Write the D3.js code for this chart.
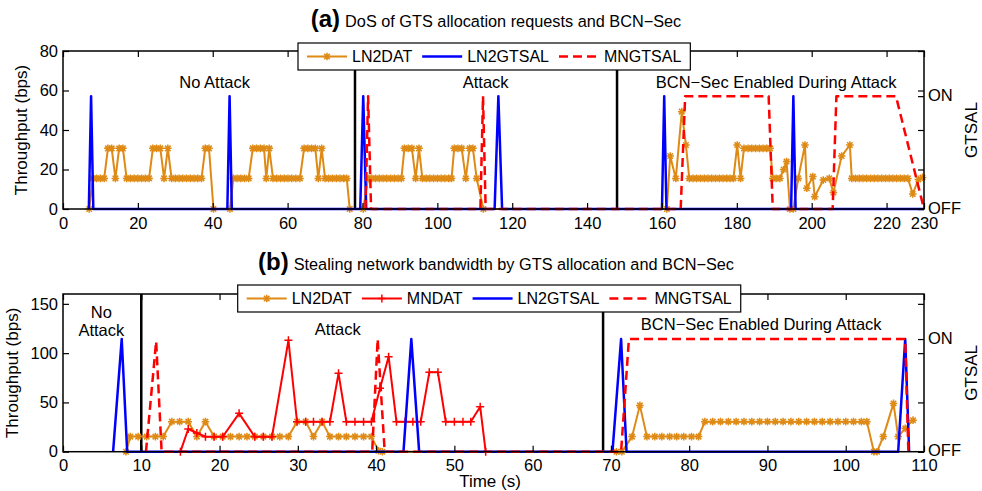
<!DOCTYPE html>
<html>
<head>
<meta charset="utf-8">
<script src="https://cdn.jsdelivr.net/npm/d3@7"></script>
<style>
  body { margin: 0; background: #fff; }
  text { font-family: "Liberation Sans", Arial, Helvetica, sans-serif; fill: #000; }
</style>
</head>
<body>
<svg id="chart" width="982" height="491"></svg>
<script>
// ---- data: [time (s), value] ----
// panel (a) : throughput on left axis (bps), GTSAL on right axis (0 = OFF, 1 = ON)
var ln2datA = [[7,0],[8,15.5],[9,15.5],[10,15.5],[11,15.5],[12,30.7],[13,30.7],[14,15.5],[15,30.7],[16,30.7],
  [17,15.5],[18,15.5],[19,15.5],[20,15.5],[21,15.5],[22,15.5],[23,15.5],[24,30.7],[25,30.7],[26,30.7],[27,15.5],
  [28,30.7],[29,15.5],[30,15.5],[31,15.5],[32,15.5],[33,15.5],[34,15.5],[35,15.5],[36,15.5],[37,15.5],[38,30.7],
  [39,30.7],[40.2,0],[44.6,0],[45.5,15.5],[46.5,15.5],[47.5,15.5],[48.5,15.5],[49.6,15.5],[50.7,30.7],[51.7,30.7],
  [52.7,30.7],[53.7,30.7],[54.3,15.5],[55.1,30.7],[56.1,15.5],[57.1,15.5],[58.1,15.5],[59.1,15.5],[60.1,15.5],
  [61.1,15.5],[62.2,15.5],[63.3,15.5],[64.4,30.7],[65.4,30.7],[66.4,30.7],[67.4,30.7],[68.2,15.5],[69.1,30.7],
  [70,15.5],[71,15.5],[72,15.5],[73,15.5],[74,15.5],[75,15.5],[75.8,15.5],[76.6,0],[80.2,0],[81.5,15.5],
  [82.5,15.5],[83.5,15.5],[84.5,15.5],[85.5,15.5],[86.5,15.5],[87.5,15.5],[88.5,15.5],[89.5,15.5],[90.4,15.5],
  [91.2,30.7],[92.2,30.7],[93.2,30.7],[94.2,15.5],[95.1,30.7],[96,15.5],[97,15.5],[98,15.5],[99,15.5],[100,15.5],
  [101,15.5],[102,15.5],[103,15.5],[103.8,15.5],[104.5,30.7],[105.5,30.7],[106.5,30.7],[107.6,15.5],[108.6,30.7],
  [109.5,30.7],[110.5,15.5],[112.3,0],[161.3,0],[162.2,26.8],[163.7,15.5],[165.3,49.3],[166.4,32.4],[167.3,15.5],
  [168.3,15.5],[169.3,15.5],[170.3,15.5],[171.3,15.5],[172.3,15.5],[173.3,15.5],[174.3,15.5],[175.3,15.5],
  [176.3,15.5],[177.3,15.5],[178.2,15.5],[179.1,15.5],[180.1,32.4],[181,15.5],[181.9,30.7],[183,30.7],[184,30.7],
  [185,30.7],[186,30.7],[187,30.7],[188,30.7],[188.9,30.7],[189.6,15.5],[190.5,15.5],[191.5,15.5],[192.5,20],
  [193.3,24],[194.2,0],[195.1,0],[196.4,15.5],[198.2,32.4],[198.7,10.5],[200.3,16.4],[200.8,6.2],[203.1,14.7],
  [204.7,15.5],[205.8,8.3],[208,26.8],[210.2,32.4],[210.7,15.5],[211.7,15.5],[212.7,15.5],[213.7,15.5],[214.7,15.5],
  [215.7,15.5],[216.7,15.5],[217.7,15.5],[218.7,15.5],[219.7,15.5],[220.7,15.5],[221.7,15.5],[222.7,15.5],
  [223.7,15.5],[224.7,15.5],[225.7,15.5],[227,7.6],[228.5,15],[229.6,16]];
var ln2gtsalA = [[6.9,0],[7.5,1],[8.1,0],[43.9,0],[44.5,1],[45.1,0],[79.4,0],[80.2,1],[81,0],[115.3,0],[116.3,1],
  [117.3,0],[160,0],[160.6,1],[161.2,0],[194.5,0],[195.1,1],[195.7,0],[230,0]];
var mngtsalA = [[80.8,0],[81.5,1],[82.3,0],[111.5,0],[112.2,1],[112.9,0],[165,0],[166.2,1],[188.5,1],[189.6,0],
  [205.6,0],[206.6,1],[222.5,1],[230,0]];

// panel (b)
var ln2datB = [[8.05,0],[8.6,15.3],[9.6,15.3],[10.7,15.3],[11.8,15.3],[12.8,15.3],[13.9,30.5],[14.9,30.5],[16,30.5],
  [17.1,15.3],[18.2,30.5],[19.3,15.3],[20.4,15.3],[21.4,15.3],[22.5,15.3],[23.5,15.3],[24.5,15.3],[25.6,15.3],
  [26.7,15.3],[27.7,15.3],[28.8,15.3],[29.9,30.5],[31,30.5],[32,15.3],[33.1,30.5],[34.1,15.3],[35.2,15.3],
  [36.2,15.3],[37.3,15.3],[38.4,15.3],[39.4,15.3],[40.3,1],[40.8,0],[70.7,0],[71.4,0],[72.7,15.3],[73.7,47],
  [74.6,15.3],[75.6,15.3],[76.5,15.3],[77.5,15.3],[78.4,15.3],[79.3,15.3],[80.3,15.3],[81.2,15.3],[82,30.5],
  [83,30.5],[84,30.5],[85,30.5],[86,30.5],[87,30.5],[88,30.5],[89,30.5],[90,30.5],[91,30.5],[92,30.5],[93,30.5],
  [94,30.5],[95,30.5],[96,30.5],[97,30.5],[98,30.5],[99,30.5],[100,30.5],[101,30.5],[102,30.5],[102.7,30.5],
  [103.6,0],[104,0],[104.8,15.3],[106.1,49],[106.7,15.3],[107.6,23.7],[108.6,32]];
var mndatB = [[15,0],[16,23],[17.1,19],[18.2,15.2],[19.3,15.2],[20.4,15.2],[22.5,38.9],[24.5,15.2],[25.6,15.2],
  [26.7,15.2],[28.8,113],[29.9,30.4],[31,30.4],[32,30.4],[33.1,30.4],[34.1,30.4],[35.2,79.5],[36.2,30.4],
  [37.3,30.4],[38.4,30.4],[39.4,30.4],[40.5,64.3],[41.6,96.4],[42.6,30.4],[43.7,30.4],[44.7,30.4],[45.7,30.4],
  [46.8,80.5],[47.9,80.5],[48.9,30.4],[50,30.4],[51.1,30.4],[52.1,30.4],[53.3,45.6],[54,0]];
var ln2gtsalB = [[6.4,0],[7.5,1],[8.2,0],[43.5,0],[44.5,1],[45.5,0],[70.2,0],[71.3,1],[72,0],[106.7,0],[107.6,1],
  [108.1,0]];
var mngtsalB = [[10.6,0],[11.9,0.98],[12.6,0],[39.5,0],[40.2,1],[41.1,0],[71.3,0],[72.3,1],[107.6,1],[108,0]];

// ---- axes / labels ----
var xTicksA = [0,20,40,60,80,100,120,140,160,180,200,220,230];
var yTicksA = [0,20,40,60,80];
var xTicksB = [0,10,20,30,40,50,60,70,80,90,100,110];
var yTicksB = [0,50,100,150];
var gtsalTicks = [0,1];
var gtsalLabels = ["OFF","ON"];
var phaseLinesA = [78,148];
var phaseLinesB = [10,69];
var notesA = [["No Attack"],["Attack"],["BCN\u2212Sec Enabled During Attack"]];
var notesB = [["No","Attack"],["Attack"],["BCN\u2212Sec Enabled During Attack"]];

var ORANGE = "#de8a14", RED = "#ff0000", BLUE = "#0000ff";

var svg = d3.select("#chart");
var pxL = 63, pxR = 924;

function markerPath(kind) {
    if (kind == "star") {
        var r = 3.8, a = r * 0.72;
        return "M" + (-r) + ",0H" + r + "M0," + (-r) + "V" + r +
               "M" + (-a) + "," + (-a) + "L" + a + "," + a + "M" + (-a) + "," + a + "L" + a + "," + (-a);
    }
    var p = 4;
    return "M" + (-p) + ",0H" + p + "M0," + (-p) + "V" + p;
}

function drawPanel(p) {
    var scX = d3.scaleLinear().domain([0, p.xMax]).range([pxL, pxR]);
    var scY = d3.scaleLinear().domain([0, p.yMax]).range([p.bottom, p.top]);
    var scY2 = d3.scaleLinear().domain([0, 1.4]).range([p.bottom, p.top]);
    var g = svg.append("g");

    // phase separators
    g.selectAll(".phase").data(p.phases).enter().append("line")
        .attr("x1", d => scX(d)).attr("x2", d => scX(d))
        .attr("y1", p.top).attr("y2", p.bottom)
        .attr("stroke", "#000").attr("stroke-width", 2.5);

    p.series.forEach(function(s) {
        var ys = s.right ? scY2 : scY;
        var lineMaker = d3.line().x(d => scX(d[0])).y(d => ys(d[1]));
        g.append("path")
            .attr("fill", "none").attr("stroke", s.color)
            .attr("stroke-width", s.width)
            .attr("stroke-dasharray", s.dash ? "9,5" : null)
            .attr("stroke-linejoin", "round")
            .attr("d", lineMaker(s.data));
        if (s.marker) {
            g.selectAll(null).data(s.data).enter().append("path")
                .attr("d", markerPath(s.marker))
                .attr("transform", d => "translate(" + scX(d[0]) + "," + ys(d[1]) + ")")
                .attr("stroke", s.color).attr("stroke-width", 1.5).attr("fill", "none");
        }
    });

    // box
    g.append("rect")
        .attr("x", pxL).attr("y", p.top)
        .attr("width", pxR - pxL).attr("height", p.bottom - p.top)
        .attr("fill", "none").attr("stroke", "#000").attr("stroke-width", 1.5);

    function styleAxis(ax) {
        ax.attr("font-size", null).attr("font-family", null);
        ax.select(".domain").remove();
        ax.selectAll(".tick line").attr("stroke-width", 1.2);
        ax.selectAll("text").style("font-size", "16.5px");
    }
    var xAxis = g.append("g").attr("transform", "translate(0," + p.bottom + ")")
        .call(d3.axisBottom(scX).tickValues(p.xTicks).tickSizeInner(-6).tickSizeOuter(0).tickPadding(8));
    styleAxis(xAxis);
    var xTop = g.append("g").attr("transform", "translate(0," + p.top + ")")
        .call(d3.axisTop(scX).tickValues(p.xTicks).tickSizeInner(-6).tickSizeOuter(0).tickFormat(""));
    styleAxis(xTop);
    var yAxis = g.append("g").attr("transform", "translate(" + pxL + ",0)")
        .call(d3.axisLeft(scY).tickValues(p.yTicks).tickSizeInner(-6).tickSizeOuter(0).tickPadding(5));
    styleAxis(yAxis);
    var yMirror = g.append("g").attr("transform", "translate(" + pxR + ",0)")
        .call(d3.axisRight(scY).tickValues(p.yTicks).tickSizeInner(-6).tickSizeOuter(0).tickFormat(""));
    styleAxis(yMirror);
    var y2Axis = g.append("g").attr("transform", "translate(" + pxR + ",0)")
        .call(d3.axisRight(scY2).tickValues(gtsalTicks).tickSizeInner(-6).tickSizeOuter(0).tickPadding(4)
              .tickFormat((d, i) => gtsalLabels[i]));
    styleAxis(y2Axis);
    y2Axis.selectAll("text").attr("dy", "0.26em");

    // axis titles
    g.append("text").attr("transform", "translate(" + p.ylabelX + "," + (p.top + p.bottom) / 2 + ") rotate(-90)")
        .attr("text-anchor", "middle").style("font-size", "17px").text("Throughput (bps)");
    g.append("text").attr("transform", "translate(977," + (p.top + p.bottom) / 2 + ") rotate(-90)")
        .attr("text-anchor", "middle").style("font-size", "17px").text("GTSAL");

    // phase annotations
    p.notes.forEach(function(lines, i) {
        var pos = p.notePos[i];
        var t = g.append("text").attr("text-anchor", "middle").style("font-size", "16.5px");
        lines.forEach(function(l, j) {
            t.append("tspan").attr("x", scX(pos[0])).attr("y", scY(pos[1]) + j * 18).text(l);
        });
    });

    // title
    var title = g.append("text").attr("x", 496).attr("y", p.titleY).attr("text-anchor", "middle");
    title.append("tspan").style("font-weight", "bold").style("font-size", "24px").text(p.tag);
    title.append("tspan").style("font-size", "16.3px").attr("dx", 5).text(p.title);

    // legend
    var lg = g.append("g");
    var box = lg.append("rect").attr("x", p.legend[0]).attr("y", p.legend[1])
        .attr("height", 27).attr("fill", "#fff").attr("stroke", "#000").attr("stroke-width", 1.2);
    var cx = p.legend[0] + 9, cy = p.legend[1] + 13.5;
    p.series.forEach(function(s) {
        lg.append("line").attr("x1", cx).attr("x2", cx + 40).attr("y1", cy).attr("y2", cy)
            .attr("stroke", s.color).attr("stroke-width", s.width)
            .attr("stroke-dasharray", s.dash ? "9,5" : null);
        if (s.marker) {
            lg.append("path").attr("d", markerPath(s.marker))
                .attr("transform", "translate(" + (cx + 20) + "," + cy + ")")
                .attr("stroke", s.color).attr("stroke-width", 1.5).attr("fill", "none");
        }
        var tx = lg.append("text").attr("x", cx + 45).attr("y", cy).attr("dy", "0.35em")
            .style("font-size", "16px").text(s.name);
        cx = cx + 45 + tx.node().getComputedTextLength() + 10;
    });
    box.attr("width", cx - 10 + 9 - p.legend[0]);
}

drawPanel({
    top: 51, bottom: 209, xMax: 230, yMax: 80,
    xTicks: xTicksA, yTicks: yTicksA, phases: phaseLinesA,
    series: [
        {name: "LN2DAT", data: ln2datA, color: ORANGE, width: 2, marker: "star"},
        {name: "LN2GTSAL", data: ln2gtsalA, color: BLUE, width: 2.5, right: true},
        {name: "MNGTSAL", data: mngtsalA, color: RED, width: 2.5, dash: true, right: true}
    ],
    notes: notesA, notePos: [[40.5, 61.3], [112.9, 61.3], [190.5, 61.3]],
    tag: "(a)", title: "DoS of GTS allocation requests and BCN\u2212Sec", titleY: 27,
    ylabelX: 27, legend: [298, 43]
});

drawPanel({
    top: 294, bottom: 451.7, xMax: 110, yMax: 160,
    xTicks: xTicksB, yTicks: yTicksB, phases: phaseLinesB,
    series: [
        {name: "LN2DAT", data: ln2datB, color: ORANGE, width: 2, marker: "star"},
        {name: "MNDAT", data: mndatB, color: RED, width: 2, marker: "plus"},
        {name: "LN2GTSAL", data: ln2gtsalB, color: BLUE, width: 2.5, right: true},
        {name: "MNGTSAL", data: mngtsalB, color: RED, width: 2.5, dash: true, right: true}
    ],
    notes: notesB, notePos: [[4.9, 135.6], [35.1, 118.4], [89.2, 123.4]],
    tag: "(b)", title: "Stealing network bandwidth by GTS allocation and BCN\u2212Sec", titleY: 270,
    ylabelX: 18, legend: [237.7, 285]
});

svg.append("text").attr("x", 490).attr("y", 487).attr("text-anchor", "middle")
    .style("font-size", "17px").text("Time (s)");
</script>
</body>
</html>
